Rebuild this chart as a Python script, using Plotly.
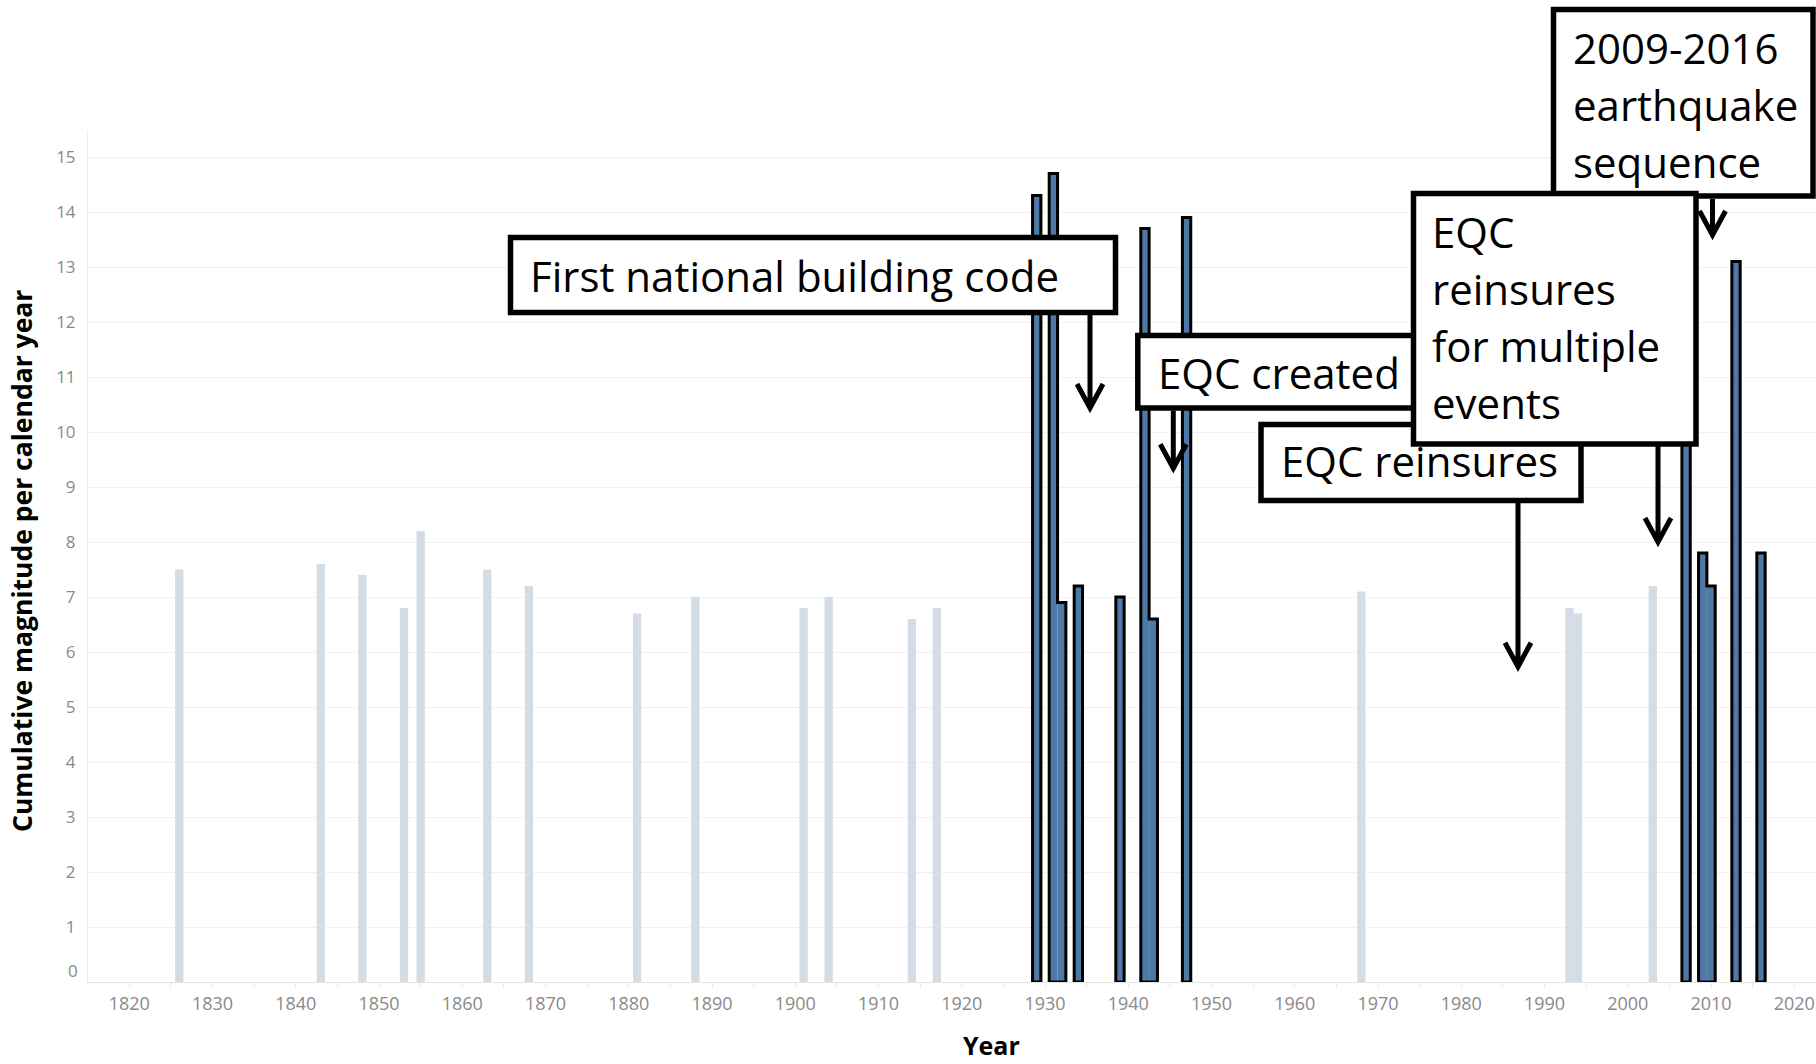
import plotly.graph_objects as go

# ---------------- data ----------------
light_years = [1826, 1843, 1848, 1853, 1855, 1863, 1868, 1881, 1888, 1901, 1904,
               1914, 1917, 1968, 1993, 1994, 2003]
light_values = [7.5, 7.6, 7.4, 6.8, 8.2, 7.5, 7.2, 6.7, 7.0, 6.8, 7.0,
                6.6, 6.8, 7.1, 6.8, 6.7, 7.2]
dark_years = [1929, 1931, 1932, 1934, 1939, 1942, 1943, 1947, 2007, 2009, 2010, 2013, 2016]
dark_values = [14.3, 14.7, 6.9, 7.2, 7.0, 13.7, 6.6, 13.9, 13.3, 7.8, 7.2, 13.1, 7.8]
x_tick_years = list(range(1820, 2021, 10))
y_tick_values = list(range(0, 16))
callout_texts = [
    ["First national building code"],
    ["EQC created"],
    ["EQC reinsures"],
    ["2009-2016", "earthquake", "sequence"],
    ["EQC", "reinsures", "for multiple", "events"],
]

# ---------------- layout geometry (pixels) ----------------
W, H = 1816, 1064
L, R, T, B = 88, 1816, 130, 982
PW, PH = R - L, B - T
PX_PER_YEAR = 8.325
X0 = 1820 - (129.3 - L) / PX_PER_YEAR
X1 = X0 + PW / PX_PER_YEAR
PX_PER_UNIT = 55.0
Y1 = PH / PX_PER_UNIT


def fx(p):
    return (p - L) / PW


def fy(p):
    return (B - p) / PH


fig = go.Figure()
fig.add_trace(go.Bar(x=light_years, y=light_values, width=1.0,
                     marker=dict(color="#d4dde6", line=dict(width=0)),
                     hoverinfo="x+y", showlegend=False))
fig.add_trace(go.Bar(x=dark_years, y=dark_values, width=1.0,
                     marker=dict(color="#4e78a6", line=dict(width=0)),
                     hoverinfo="x+y", showlegend=False))

# outline around contiguous groups of highlighted years
ox, oy = [], []
groups = []
for yr, v in zip(dark_years, dark_values):
    if groups and yr == groups[-1][-1][0] + 1:
        groups[-1].append((yr, v))
    else:
        groups.append([(yr, v)])
for g in groups:
    ox.append(g[0][0] - 0.5); oy.append(0)
    ox.append(g[0][0] - 0.5); oy.append(g[0][1])
    for i, (yr, v) in enumerate(g):
        ox.append(yr + 0.5); oy.append(v)
        if i + 1 < len(g):
            ox.append(yr + 0.5); oy.append(g[i + 1][1])
    ox.append(g[-1][0] + 0.5); oy.append(0)
    ox.append(g[0][0] - 0.5); oy.append(0)
    ox.append(None); oy.append(None)
fig.add_trace(go.Scatter(x=ox, y=oy, mode="lines",
                         line=dict(color="black", width=3),
                         hoverinfo="skip", showlegend=False, connectgaps=False))

# ---------------- callout boxes & arrows ----------------
boxes = [  # x0, y0, x1, y1 (px)
    (510.5, 237.5, 1115.5, 312.5),
    (1137.8, 335.5, 1450, 408),
    (1261, 424.5, 1581, 500.5),
    (1553.5, 9.5, 1813, 196),
    (1413.5, 193.5, 1696, 444),
]
text_pos = [  # left x, first baseline (px)
    (527.5, 291.7),
    (1156.3, 388.3),
    (1279.3, 476.7),
    (1570.8, 64.0),
    (1429.7, 248.3),
]
arrows = [  # x, y start, y tip
    (1090, 315, 408),
    (1173.3, 410.7, 468.3),
    (1518, 503, 666.7),
    (1712.5, 199, 235),
    (1658, 446, 542),
]
LINE_STEP = 56.8
FONT_SIZE = 42

shapes = []
annotations = []
for i, (bx0, by0, bx1, by1) in enumerate(boxes):
    shapes.append(dict(type="rect", xref="paper", yref="paper",
                       x0=fx(bx0), x1=fx(bx1), y0=fy(by1), y1=fy(by0),
                       line=dict(color="black", width=5.5), fillcolor="white",
                       layer="above"))
for (ax, ay0, atip) in arrows:
    hw, hh = 13, 24
    path = (f"M {fx(ax)},{fy(ay0)} L {fx(ax)},{fy(atip - 2)} "
            f"M {fx(ax - hw)},{fy(atip - hh)} L {fx(ax)},{fy(atip)} L {fx(ax + hw)},{fy(atip - hh)}")
    shapes.append(dict(type="path", xref="paper", yref="paper", path=path,
                       line=dict(color="black", width=5), layer="above"))

for lines, (tx, tb) in zip(callout_texts, text_pos):
    for k, line in enumerate(lines):
        base = tb + k * LINE_STEP
        annotations.append(dict(text=line, xref="paper", yref="paper",
                                x=fx(tx), y=fy(base - 16.3), xanchor="left", yanchor="middle",
                                showarrow=False,
                                font=dict(family="Open Sans", size=FONT_SIZE, color="black")))

# axis titles and shifted zero label
annotations.append(dict(text="Cumulative magnitude per calendar year", textangle=-90,
                        xref="paper", yref="paper", x=fx(22), y=fy(561),
                        xanchor="center", yanchor="middle", showarrow=False,
                        font=dict(family="Open Sans", size=26.5, color="black", weight="bold")))
annotations.append(dict(text="Year", xref="paper", yref="paper", x=fx(991.5), y=fy(1045),
                        xanchor="center", yanchor="middle", showarrow=False,
                        font=dict(family="Open Sans", size=25, color="black", weight="bold")))
annotations.append(dict(text=str(y_tick_values[0]), xref="paper", yref="paper",
                        x=fx(80), y=fy(970), xanchor="right", yanchor="middle", showarrow=False,
                        font=dict(family="Open Sans", size=17, color="#8a8a8a")))

fig.update_layout(
    width=W, height=H,
    margin=dict(l=L, r=W - R, t=T, b=H - B, pad=0),
    paper_bgcolor="white", plot_bgcolor="white",
    barmode="overlay",
    shapes=shapes, annotations=annotations,
    showlegend=False,
    font=dict(family="Open Sans", color="#8a8a8a"),
)
fig.update_xaxes(range=[X0, X1], tickvals=x_tick_years, ticktext=[str(v) for v in x_tick_years],
                 showgrid=False, zeroline=False, showline=True, linecolor="#e4e4e4", linewidth=1,
                 ticks="outside", ticklen=5, tickcolor="#ececec",
                 minor=dict(ticks="outside", ticklen=5, tickcolor="#ececec", dtick=5, tick0=1815),
                 tickfont=dict(family="Open Sans", size=18, color="#8a8a8a"))
fig.update_yaxes(range=[0, Y1], tickvals=y_tick_values,
                 ticktext=[""] + [str(v) for v in y_tick_values[1:]],
                 showgrid=True, gridcolor="#f1f1f1", gridwidth=1, zeroline=False,
                 showline=True, linecolor="#ececec", linewidth=1,
                 ticks="", ticklabelstandoff=8,
                 tickfont=dict(family="Open Sans", size=17, color="#8a8a8a"))

fig.write_html("out.html", config={"displayModeBar": False},
               post_script="document.body.style.margin='0px';")
